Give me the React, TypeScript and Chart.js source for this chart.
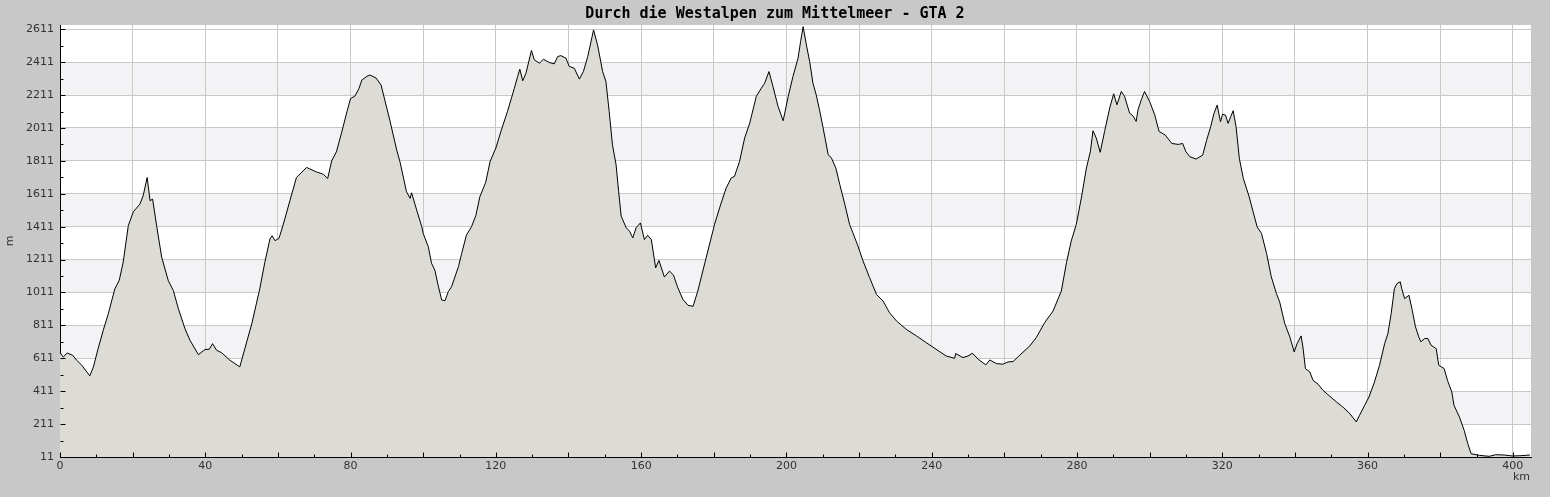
import React, { useEffect, useRef } from "react";
import { Chart, registerables } from "chart.js";

Chart.register(...registerables);

const chartTitle = "Durch die Westalpen zum Mittelmeer - GTA 2";
const xAxisTitle = "km";
const yAxisTitle = "m";

const distanceKm: number[] = [
  0, 0.9, 2, 3.5, 4.6, 6, 8.2, 9.2, 10.5, 11.9, 13.3, 15.1, 16.3, 17.4, 18.8, 20.2, 22, 22.9, 24, 24.8,
  25.5, 26.6, 28, 29.8, 31.2, 32.6, 34.4, 35.8, 38.1, 39.9, 41.1, 42, 43.1, 44.5, 46.8, 49.5, 50.9, 52.8, 55, 56.4,
  57.8, 58.4, 59.2, 60.3, 61.5, 63.3, 65.1, 67.9, 70.6, 72.5, 73.7, 74.8, 76.1, 77.5, 79, 80, 81.2, 82.3, 83.1, 84.5,
  85.3, 87, 88.4, 90.8, 92.7, 93.6, 95.4, 96.4, 96.8, 98.2, 99.6, 100, 101.4, 102.3, 103.2, 104.2, 105.1, 106, 106.9, 107.8,
  109.7, 110.6, 111.9, 113.3, 114.5, 115.6, 117.2, 118.4, 120, 121.4, 123.2, 125.1, 126, 126.6, 127.4, 128.3, 129.8, 130.6, 132, 133.1,
  134.7, 136.1, 137, 137.9, 139.3, 140.2, 141.6, 143, 144.1, 145.3, 146.9, 148, 149.4, 150.3, 151.2, 152.1, 153.1, 153.8, 154.5, 155.9,
  156.8, 157.7, 158.6, 159.8, 160.9, 161.8, 162.8, 164, 164.9, 166.4, 167.8, 168.9, 170.1, 171.5, 172.9, 174.3, 175.6, 177.9, 180.2, 181.6,
  183.4, 184.8, 185.7,
  187.1, 188.5, 189.9, 191.7, 193.1, 194, 195.2, 196.3, 197.7, 199.1, 200.5, 201.8, 203.2, 203.9, 204.6, 205.5, 206.4, 207.3, 208.2, 209.2,
  210.1, 211.5, 212.4, 213.6, 214.7, 216.1, 217.4, 218.3, 219.7, 221.1, 222.9, 224.8, 226.6, 228.4, 230.3, 233, 235.8, 238.5, 241.2, 244,
  246.3, 246.6, 248.6, 250, 251.2, 252.8, 254.9, 256, 257.8, 259.6, 261, 262.4, 264.2, 267, 268.8, 271.1, 273.4, 275.7, 277.1, 278.4,
  279.8, 281.2, 282.6, 283.7, 284.4, 285.3, 286.4, 287.6, 289, 290.1, 291, 292.2, 293.1, 294.5, 295.4, 296.3, 296.8, 297.7, 298.6, 300,
  301.4, 302.6, 304.3, 306.1, 307.9, 309.1, 310, 311.1, 312.8, 314.6, 315.7, 316.8, 317.7, 318.6, 319.5, 320.1, 320.9, 321.6, 322.3, 323,
  323.8, 324.7, 325.8, 327.4, 328.5, 329.6, 330.8, 332.2, 333.5, 334.9, 335.8, 337.2, 338.6, 339.8, 340.6, 341.7, 342.2, 342.9, 344.1, 345,
  346.4, 347.7, 349.6, 351.4, 353.2, 355.1, 356.9, 357.8, 359.2, 360.4, 361.9, 363.3, 364.7, 365.6, 366.5, 367.4, 368.1, 369, 369.4, 370.2,
  371.4, 372.3, 373.2, 374.1, 374.7, 375.7, 376.6, 377.5, 378.9, 379.6, 381.1, 382, 383.2, 383.8, 385.3, 386.6, 387.6, 388.5, 390.8, 393.5,
  395.3, 397.6, 399.9, 402.2, 404.7,
];

const elevationM: number[] = [
  645, 619, 643, 629, 599, 569, 504, 559, 670, 781, 882, 1033, 1084, 1195, 1417, 1502, 1548, 1599, 1710, 1569,
  1579, 1417, 1225, 1084, 1023, 912, 791, 720, 633, 664, 666, 700, 660, 645, 599, 559, 670, 821, 1033, 1195,
  1336, 1356, 1326, 1340, 1427, 1569, 1710, 1771, 1744, 1730, 1704, 1811, 1866, 1980, 2110, 2190, 2205, 2250, 2302, 2325,
  2333, 2315, 2272, 2059, 1877, 1806, 1623, 1583, 1617, 1512, 1411, 1370, 1289, 1188, 1147, 1046, 965, 961, 1016, 1046,
  1168, 1249, 1360, 1411, 1480, 1593, 1680, 1806, 1889, 1990, 2112, 2253, 2324, 2368, 2298, 2344, 2482, 2425, 2405, 2429,
  2409, 2401, 2445, 2451, 2435, 2385, 2374, 2308, 2354, 2445, 2607, 2516, 2354, 2294, 2112, 1909, 1788, 1626, 1475, 1404,
  1384, 1343, 1404, 1434, 1333, 1359, 1333, 1161, 1206, 1105, 1141, 1117, 1040, 969, 933, 927, 1020, 1222, 1424, 1525,
  1646, 1707, 1717,
  1808, 1950, 2041, 2203, 2253, 2283, 2354, 2263, 2142, 2055, 2203, 2324, 2435, 2536, 2627, 2516, 2415, 2283, 2213, 2112,
  2011, 1849, 1828, 1768, 1667, 1545, 1424, 1374, 1293, 1202, 1101, 999, 959, 888, 838, 787, 747, 706, 666, 625,
  611, 640, 615, 625, 642, 605, 571, 601, 579, 575, 589, 591, 629, 686, 737, 828, 898, 1020, 1192, 1323,
  1424, 1586, 1768, 1869, 1994, 1950, 1863, 1990, 2132, 2219, 2152, 2233, 2203, 2101, 2085, 2051, 2122, 2182, 2233, 2172,
  2091, 1990, 1968, 1917, 1911, 1917, 1866, 1836, 1822, 1846, 1937, 2018, 2099, 2150, 2049, 2095, 2089, 2039, 2079, 2116,
  2018, 1826, 1704, 1593, 1501, 1410, 1370, 1248, 1106, 1005, 954, 822, 741, 650, 700, 747, 680, 548, 528, 477,
  453, 417, 380, 346, 315, 275, 224, 265, 325, 376, 467, 569, 700, 761, 883, 1035, 1065, 1076, 1035, 974,
  994, 903, 802, 741, 711, 731, 731, 690, 670, 569, 548, 477, 406, 325, 254, 173, 92, 31, 21, 15,
  25, 23, 17, 19, 23,
];

const yTickValues = [11, 211, 411, 611, 811, 1011, 1211, 1411, 1611, 1811, 2011, 2211, 2411, 2611];
const yMinorTickValues = [111, 311, 511, 711, 911, 1111, 1311, 1511, 1711, 1911, 2111, 2311, 2511];
const xGridValues = [0, 20, 40, 60, 80, 100, 120, 140, 160, 180, 200, 220, 240, 260, 280, 300, 320, 340, 360, 380, 400];
const xLabelValues = [0, 40, 80, 120, 160, 200, 240, 280, 320, 360, 400];
const xMinorTickValues = [10, 30, 50, 70, 90, 110, 130, 150, 170, 190, 210, 230, 250, 270, 290, 310, 330, 350, 370, 390];

const X_MIN = 0;
const X_MAX = 405;
const Y_MIN = 11;
const Y_MAX = 2637;

export default function App() {
  const canvasRef = useRef<HTMLCanvasElement>(null);

  useEffect(() => {
    const canvas = canvasRef.current;
    if (!canvas) return;

    const decorPlugin = {
      id: "decor",
      beforeDraw(chart: any) {
        const { ctx, chartArea: a, scales } = chart;
        ctx.save();
        ctx.fillStyle = "#c8c8c8";
        ctx.fillRect(0, 0, chart.width, chart.height);
        ctx.fillStyle = "#ffffff";
        ctx.fillRect(a.left, a.top, a.right - a.left, a.bottom - a.top);
        ctx.fillStyle = "#f3f2f5";
        for (let i = 1; i < yTickValues.length - 1; i += 2) {
          const y1 = scales.y.getPixelForValue(yTickValues[i]);
          const y2 = scales.y.getPixelForValue(yTickValues[i + 1]);
          ctx.fillRect(a.left, y2, a.right - a.left, y1 - y2);
        }
        ctx.restore();
      },
      afterDraw(chart: any) {
        const { ctx, chartArea: a, scales } = chart;
        ctx.save();
        ctx.strokeStyle = "#000";
        ctx.lineWidth = 1;
        ctx.beginPath();
        const yl = Math.round(a.left) + 0.5;
        yTickValues.forEach((v) => {
          const y = Math.round(scales.y.getPixelForValue(v)) + 0.5;
          ctx.moveTo(yl, y);
          ctx.lineTo(yl + 5, y);
        });
        yMinorTickValues.forEach((v) => {
          const y = Math.round(scales.y.getPixelForValue(v)) + 0.5;
          ctx.moveTo(yl, y);
          ctx.lineTo(yl + 3, y);
        });
        const xb = Math.round(a.bottom) + 0.5;
        xGridValues.forEach((v) => {
          const x = Math.round(scales.x.getPixelForValue(v)) + 0.5;
          ctx.moveTo(x, xb);
          ctx.lineTo(x, xb - 5);
        });
        xMinorTickValues.forEach((v) => {
          const x = Math.round(scales.x.getPixelForValue(v)) + 0.5;
          ctx.moveTo(x, xb);
          ctx.lineTo(x, xb - 3);
        });
        ctx.stroke();

        ctx.fillStyle = "#000";
        ctx.font = 'bold 15px "DejaVu Sans Mono"';
        ctx.textAlign = "center";
        ctx.textBaseline = "middle";
        ctx.fillText(chartTitle, chart.width / 2, 14);

        ctx.fillStyle = "#333";
        ctx.font = '11px "DejaVu Sans"';
        ctx.textAlign = "right";
        ctx.fillText(xAxisTitle, a.right - 1, a.bottom + 20);

        ctx.translate(10, (a.top + a.bottom) / 2);
        ctx.rotate(-Math.PI / 2);
        ctx.textAlign = "center";
        ctx.fillText(yAxisTitle, 0, 0);
        ctx.restore();
      },
    };

    const chart = new Chart(canvas, {
      type: "line",
      data: {
        datasets: [
          {
            data: distanceKm.map((x, i) => ({ x, y: elevationM[i] })),
            borderColor: "#000000",
            borderWidth: 1,
            backgroundColor: "#dcdbd6",
            fill: "origin",
            pointRadius: 0,
            tension: 0,
          },
        ],
      },
      options: {
        animation: false,
        responsive: false,
        devicePixelRatio: 1,
        layout: { padding: { top: 25, right: 19, left: 0, bottom: 0 } },
        plugins: {
          legend: { display: false },
          title: { display: false },
          tooltip: { enabled: false },
        },
        scales: {
          x: {
            type: "linear",
            min: X_MIN,
            max: X_MAX,
            afterBuildTicks: (s: any) => {
              s.ticks = xGridValues.map((v) => ({ value: v }));
            },
            afterFit: (s: any) => {
              s.height = 40;
            },
            grid: { color: "#c8c8c8", lineWidth: 1, drawTicks: false },
            border: { color: "#000", width: 1 },
            ticks: {
              padding: 3,
              color: "#333",
              font: { family: "DejaVu Sans", size: 11 },
              maxRotation: 0,
              autoSkip: false,
              callback: (v: any) => (xLabelValues.includes(Number(v)) ? String(v) : ""),
            },
          },
          y: {
            type: "linear",
            min: Y_MIN,
            max: Y_MAX,
            afterBuildTicks: (s: any) => {
              s.ticks = yTickValues.map((v) => ({ value: v }));
            },
            afterFit: (s: any) => {
              s.width = 60;
            },
            grid: { color: "#c8c8c8", lineWidth: 1, drawTicks: false },
            border: { color: "#000", width: 1 },
            ticks: {
              padding: 6,
              color: "#333",
              font: { family: "DejaVu Sans", size: 11 },
              autoSkip: false,
              callback: (v: any) => String(v),
            },
          },
        },
      },
      plugins: [decorPlugin],
    } as any);

    return () => chart.destroy();
  }, []);

  return (
    <div style={{ position: "absolute", left: 0, top: 0, width: 1550, height: 497 }}>
      <canvas ref={canvasRef} width={1550} height={497} style={{ display: "block", width: 1550, height: 497 }} />
    </div>
  );
}
